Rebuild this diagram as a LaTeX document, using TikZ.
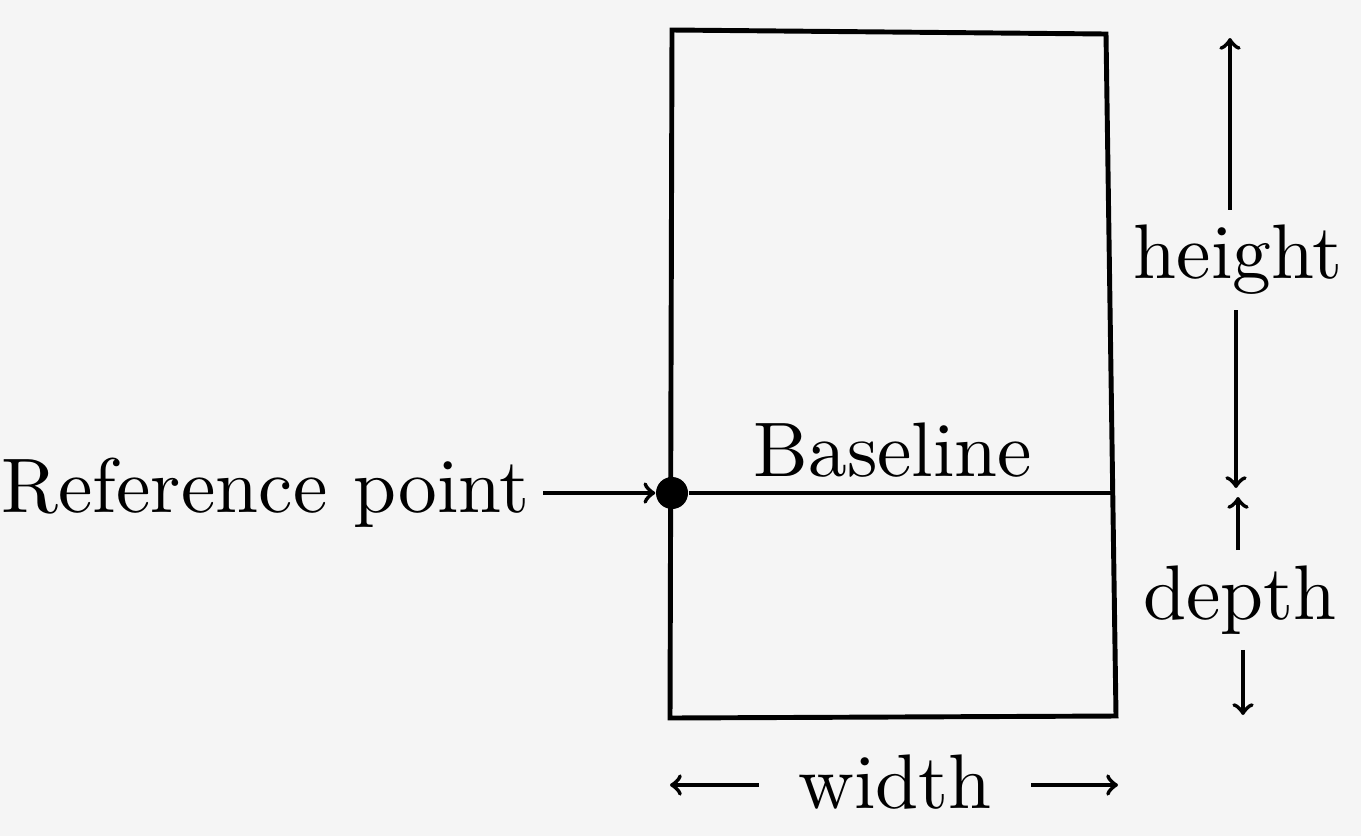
\documentclass[tikz,border=0pt]{standalone}
\usepackage{tikz}
\usetikzlibrary{arrows}
\usetikzlibrary{positioning}

\tikzset{
  lbl/.style={font=\normalsize, scale=2.2, inner sep=0pt},
  dim/.style={line width=1.2pt,->,>=to},
}

\begin{document}
\begin{tikzpicture}[x=0.01cm,y=-0.01cm]
% fond
\fill[black!4] (0,0) rectangle (1361,836);
\useasboundingbox (0,0) rectangle (1361,836);
% boite
\draw[line width=1.4pt] (672,30) -- (1106,34) -- (1116,716) -- (670,718) -- cycle;
% ligne de base
\node[circle,fill=black,inner sep=0pt,minimum size=0.32cm] (ref) at (672,493) {};
\coordinate (bend) at (1112,493);
\draw[line width=1.4pt] (ref) -- (bend);
\node[lbl] (base) at (893,450) {Baseline};
% point de reference
\node[lbl,anchor=east] (reftxt) at (531,493) {Reference point};
\draw[dim] (reftxt.east) ++(12,0) coordinate (rs) -- (ref.west);
% hauteur
\node[lbl] (h) at (1238,260) {height};
\coordinate (htop) at (1230,38);
\coordinate (hbot) at (1236,488);
\draw[dim] (h.north -| htop) ++(0,-14) -- (htop);
\draw[dim] (h.south -| hbot) ++(0,14) -- (hbot);
% profondeur
\node[lbl] (d) at (1240,600) {depth};
\coordinate (dtop) at (1238,497);
\coordinate (dbot) at (1243,715);
\draw[dim] (d.north -| dtop) ++(0,-14) -- (dtop);
\draw[dim] (d.south -| dbot) ++(0,14) -- (dbot);
% largeur
\node[lbl] (w) at (895,782) {width};
\coordinate (wl) at (670,785);
\coordinate (wr) at (1118,785);
\draw[dim] (w.west |- wl) ++(-38,0) -- (wl);
\draw[dim] (w.east |- wr) ++(38,0) -- (wr);
\end{tikzpicture}
\end{document}
